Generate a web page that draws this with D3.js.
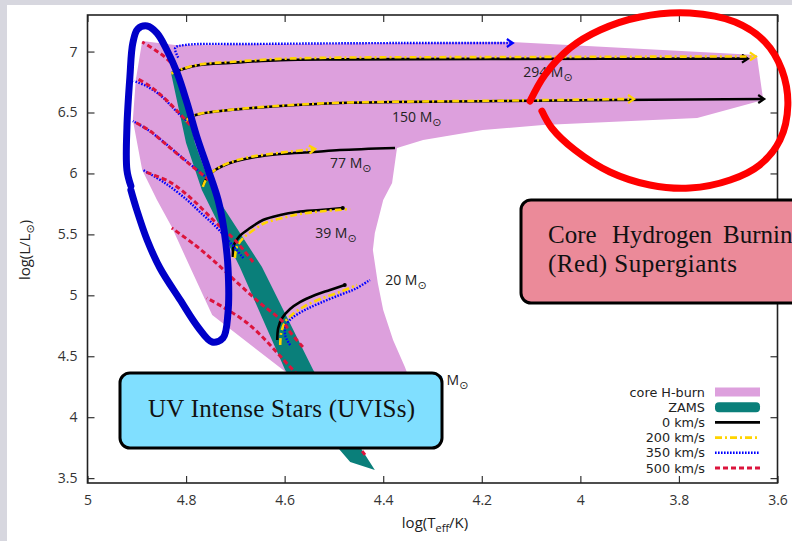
<!DOCTYPE html>
<html><head><meta charset="utf-8">
<script src="https://cdn.jsdelivr.net/npm/d3@7"></script>
<style>body{margin:0;background:#fff}svg{display:block}</style>
</head><body>
<svg id="c" width="792" height="541"></svg>
<script>
// ---------- data (log Teff, log L) ----------
const xTicks = [5, 4.8, 4.6, 4.4, 4.2, 4, 3.8, 3.6];
const yTicks = [3.5, 4, 4.5, 5, 5.5, 6, 6.5, 7];

const coreHBurn = [[4.8225,7.054],[4.569,7.062],[4.139,7.078],[3.642,6.972],[3.629,6.603],[3.763,6.455],[4.076,6.397],[4.198,6.356],[4.319,6.274],[4.372,6.209],[4.382,5.922],[4.400,5.782],[4.417,5.511],[4.421,5.372],[4.411,5.101],[4.400,4.879],[4.380,4.633],[4.356,4.412],[4.346,4.305],[4.33,4.1],[4.52,4.1],[4.603,4.387],[4.747,4.838],[4.792,5.232],[4.829,5.560],[4.859,5.782],[4.889,6.028],[4.908,6.438],[4.902,6.767],[4.889,7.087]];
const zams = [[4.831,6.832],[4.800,6.250],[4.768,5.864],[4.691,5.232],[4.599,4.387],[4.488,3.731],[4.467,3.632],[4.417,3.567],[4.443,3.731],[4.542,4.387],[4.646,5.232],[4.747,5.864],[4.782,6.250],[4.816,6.865]];

// 0 km/s
const v0_294 = [[4.827,6.824],[4.806,6.857],[4.772,6.89],[4.711,6.907],[4.609,6.93],[4.488,6.936],[4.163,6.94],[3.662,6.942]];
const v0_150 = [[4.802,6.430],[4.792,6.463],[4.772,6.488],[4.711,6.520],[4.609,6.553],[4.488,6.578],[4.163,6.594],[3.629,6.611]];
const v0_77  = [[4.766,5.897],[4.758,5.963],[4.741,6.028],[4.711,6.086],[4.670,6.127],[4.609,6.159],[4.542,6.176],[4.488,6.192],[4.376,6.209]];
const v0_39  = [[4.705,5.314],[4.703,5.413],[4.691,5.487],[4.670,5.552],[4.644,5.618],[4.609,5.659],[4.575,5.684],[4.528,5.700],[4.482,5.716]];
const v0_20  = [[4.615,4.633],[4.613,4.732],[4.605,4.814],[4.589,4.888],[4.569,4.945],[4.538,5.003],[4.508,5.044],[4.478,5.085]];
// 200 km/s
const v200_294 = [[4.83,6.82],[4.806,6.86],[4.772,6.895],[4.711,6.915],[4.609,6.94],[4.488,6.95],[4.163,6.955],[3.646,6.96]];
const v200_150 = [[4.802,6.425],[4.792,6.463],[4.772,6.49],[4.711,6.522],[4.609,6.556],[4.488,6.58],[4.163,6.597],[3.893,6.611]];
const v200_77  = [[4.766,5.89],[4.758,5.96],[4.741,6.03],[4.711,6.09],[4.670,6.135],[4.609,6.17],[4.54,6.20]];
const v200_39  = [[4.701,5.306],[4.697,5.396],[4.684,5.470],[4.666,5.528],[4.640,5.593],[4.605,5.634],[4.569,5.667],[4.518,5.692],[4.467,5.708]];
const v200_20  = [[4.609,4.592],[4.607,4.691],[4.599,4.781],[4.583,4.847],[4.559,4.912],[4.528,4.970],[4.488,5.027],[4.453,5.085]];
// 350 km/s
const v350_294 = [[4.816,6.95],[4.822,7.03],[4.80,7.055],[4.67,7.062],[4.366,7.07],[4.139,7.07]];
const v350_150 = [[4.796,6.414],[4.822,6.520],[4.853,6.644],[4.881,6.718],[4.906,6.759]];
const v350_77  = [[4.762,5.979],[4.802,6.110],[4.843,6.250],[4.877,6.356],[4.908,6.430]];
const v350_39  = [[4.684,5.306],[4.711,5.437],[4.741,5.569],[4.772,5.684],[4.798,5.782],[4.843,5.922],[4.887,6.028]];
const v350_20  = [[4.589,4.592],[4.599,4.674],[4.597,4.756],[4.585,4.814],[4.559,4.879],[4.528,4.937],[4.488,5.003],[4.457,5.052],[4.427,5.126]];
// 500 km/s
const v500_294 = [[4.820,6.865],[4.843,6.955],[4.863,7.013],[4.889,7.079]];
const v500_150 = [[4.792,6.397],[4.816,6.504],[4.849,6.636],[4.877,6.726],[4.902,6.783]];
const v500_77  = [[4.753,5.946],[4.796,6.086],[4.839,6.233],[4.873,6.348],[4.904,6.422]];
const v500_39  = [[4.664,5.273],[4.701,5.454],[4.741,5.602],[4.786,5.782],[4.833,5.930],[4.883,6.012]];
const v500_20  = [[4.563,4.576],[4.589,4.699],[4.603,4.781],[4.650,4.937],[4.691,5.085],[4.741,5.273],[4.782,5.413],[4.829,5.552]];
const v500_9   = [[4.437,3.69],[4.508,4.06],[4.583,4.387],[4.676,4.773],[4.758,4.978]];

const massNames = ["294", "150", "77", "39", "20", "9"];
const massLabelT = [4.116, 4.382, 4.508, 4.538, 4.396, 4.295];
const massLabelL = [6.791, 6.422, 6.045, 5.470, 5.085, 4.264];

const legendNames = ["core H-burn", "ZAMS", "0 km/s", "200 km/s", "350 km/s", "500 km/s"];

// hand-drawn annotations (data coords)
const blueLoop = [[4.912,5.864],[4.900,5.700],[4.879,5.454],[4.853,5.224],[4.812,4.962],[4.776,4.740],[4.747,4.617],[4.725,4.650],[4.715,4.855],[4.715,5.232],[4.723,5.536],[4.735,5.782],[4.755,6.028],[4.778,6.299],[4.798,6.578],[4.818,6.824],[4.839,7.013],[4.859,7.152],[4.879,7.210],[4.898,7.185],[4.908,7.070],[4.914,6.791],[4.920,6.381],[4.920,6.028],[4.912,5.897]];
const redLoop = [[4.102,6.594],[4.072,6.808],[4.021,7.029],[3.960,7.177],[3.879,7.284],[3.778,7.316],[3.686,7.242],[3.625,7.078],[3.591,6.849],[3.579,6.561],[3.595,6.274],[3.636,6.070],[3.696,5.946],[3.778,5.880],[3.859,5.905],[3.940,6.012],[4.011,6.192],[4.058,6.373],[4.078,6.512]];

// ---------- drawing ----------
const svg = d3.select("#c");
const x = d3.scaleLinear().domain([5, 3.6]).range([87.5, 777.5]);
const y = d3.scaleLinear().domain([3.46, 7.3]).range([483, 15]);
const FONT = "'Open Sans', 'DejaVu Sans', sans-serif";
const LFONT = "'DejaVu Sans', sans-serif";
const SERIF = "'Liberation Serif', 'DejaVu Serif', serif";

svg.append("rect").attr("width", 792).attr("height", 541).attr("fill", "#fff");
svg.append("rect").attr("width", 792).attr("height", 5).attr("fill", "#d7d7df");
svg.append("rect").attr("width", 7).attr("height", 541).attr("fill", "#d7d7df");

const COL = {k: "#000", yel: "#ffd400", blu: "#0000ff", red: "#dc143c", pink: "#dda0dd", teal: "#0a7f7a"};

const defs = svg.append("defs");
function marker(id, color) {
  defs.append("marker").attr("id", id).attr("viewBox", "-6 -5 10 10")
    .attr("markerWidth", 10).attr("markerHeight", 10).attr("markerUnits", "userSpaceOnUse")
    .attr("orient", "auto").attr("refX", 0).attr("refY", 0)
    .append("path").attr("d", "M-5,-4 L1,0 L-5,4").attr("fill", "none")
    .attr("stroke", color).attr("stroke-width", 2.2);
}
marker("ak", COL.k); marker("ay", COL.yel); marker("ab", COL.blu);

const area = d3.line().x(d => x(d[0])).y(d => y(d[1])).curve(d3.curveLinearClosed);
const smooth = d3.line().x(d => x(d[0])).y(d => y(d[1])).curve(d3.curveCatmullRom.alpha(0.5));

const plot = svg.append("g");
plot.append("path").attr("d", area(coreHBurn)).attr("fill", COL.pink);
plot.append("path").attr("d", area(zams)).attr("fill", COL.teal);

function styleLine(p, style) {
  if (style === "k") p.attr("stroke", COL.k).attr("stroke-width", 2.6);
  if (style === "y") p.attr("stroke", COL.yel).attr("stroke-width", 2.6).attr("stroke-dasharray", "7,3,2,3");
  if (style === "b") p.attr("stroke", COL.blu).attr("stroke-width", 2.4).attr("stroke-dasharray", "1.6,1.4");
  if (style === "r") p.attr("stroke", COL.red).attr("stroke-width", 3).attr("stroke-dasharray", "5,3");
}
function track(data, style, arrow) {
  const p = plot.append("path").attr("d", smooth(data)).attr("fill", "none");
  styleLine(p, style);
  if (arrow) p.attr("marker-end", "url(#" + arrow + ")");
}
[v0_294, v0_150, v0_77, v0_39, v0_20].forEach((d, i) => track(d, "k", i < 2 ? "ak" : null));
[v200_294, v200_150, v200_77, v200_39, v200_20].forEach((d, i) => track(d, "y", i < 3 ? "ay" : null));
[v350_294, v350_150, v350_77, v350_39, v350_20].forEach((d, i) => track(d, "b", i === 0 ? "ab" : null));
[v500_294, v500_150, v500_77, v500_39, v500_20, v500_9].forEach(d => track(d, "r", null));
[v0_39, v0_20].forEach(d => {
  const e = d[d.length - 1];
  plot.append("circle").attr("cx", x(e[0])).attr("cy", y(e[1])).attr("r", 2).attr("fill", "#000");
});

// mass labels
massNames.forEach((m, i) => {
  const t = plot.append("text").attr("x", x(massLabelT[i])).attr("y", y(massLabelL[i]))
    .attr("font-family", FONT).attr("font-size", 14).attr("fill", "#222");
  t.append("tspan").text(m + " M");
  t.append("tspan").attr("dy", 4).attr("font-size", 11).text("\u2299");
});

// axes frame + ticks
const fmt = d3.format("~g");
svg.append("g").attr("transform", "translate(0,483)")
  .call(d3.axisBottom(x).tickValues(xTicks).tickFormat(fmt).tickSizeInner(-7).tickSizeOuter(0).tickPadding(12))
  .call(g => g.select(".domain").remove());
svg.append("g").attr("transform", "translate(0,15)")
  .call(d3.axisTop(x).tickValues(xTicks).tickFormat("").tickSizeInner(-7).tickSizeOuter(0))
  .call(g => g.select(".domain").remove());
svg.append("g").attr("transform", "translate(87.5,0)")
  .call(d3.axisLeft(y).tickValues(yTicks).tickFormat(fmt).tickSizeInner(-7).tickSizeOuter(0).tickPadding(10))
  .call(g => g.select(".domain").remove());
svg.append("g").attr("transform", "translate(777.5,0)")
  .call(d3.axisRight(y).tickValues(yTicks).tickFormat("").tickSizeInner(-7).tickSizeOuter(0))
  .call(g => g.select(".domain").remove());
svg.selectAll(".tick text").attr("font-family", FONT).attr("font-size", 14).attr("fill", "#333");
svg.selectAll(".tick line").attr("stroke", "#333").attr("stroke-width", 1.2);
svg.append("rect").attr("x", 87.5).attr("y", 15).attr("width", 690).attr("height", 468)
  .attr("fill", "none").attr("stroke", "#222").attr("stroke-width", 1.6);

// axis titles
const xt = svg.append("text").attr("x", 435).attr("y", 528).attr("text-anchor", "middle")
  .attr("font-family", FONT).attr("font-size", 15).attr("fill", "#222");
xt.append("tspan").text("log(T");
xt.append("tspan").attr("dy", 4).attr("font-size", 11).text("eff");
xt.append("tspan").attr("dy", -4).text("/K)");
const yt = svg.append("text").attr("transform", "translate(30,250) rotate(-90)").attr("text-anchor", "middle")
  .attr("font-family", FONT).attr("font-size", 15).attr("fill", "#222");
yt.append("tspan").text("log(L/L");
yt.append("tspan").attr("dy", 4).attr("font-size", 11).text("\u2299");
yt.append("tspan").attr("dy", -4).text(")");

// legend
const lg = svg.append("g");
legendNames.forEach((n, i) => {
  const cy = 392 + i * 15.2;
  lg.append("text").attr("x", 705).attr("y", cy + 4.5).attr("text-anchor", "end")
    .attr("font-family", LFONT).attr("font-size", 12.8).attr("fill", "#222").text(n);
  if (i === 0) lg.append("rect").attr("x", 715).attr("y", cy - 4.5).attr("width", 45).attr("height", 9).attr("fill", COL.pink);
  if (i === 1) lg.append("rect").attr("x", 715).attr("y", cy - 5).attr("width", 45).attr("height", 10).attr("rx", 4).attr("fill", COL.teal);
  const st = [null, null, "k", "y", "b", "r"][i];
  if (st) styleLine(lg.append("line").attr("x1", 715).attr("x2", 760).attr("y1", cy).attr("y2", cy), st);
});

// hand-drawn annotations
svg.append("path").attr("d", smooth(blueLoop)).attr("fill", "none").attr("stroke", "#0000c8")
  .attr("stroke-width", 7).attr("stroke-linecap", "round").attr("stroke-linejoin", "round");
svg.append("path").attr("d", smooth(redLoop)).attr("fill", "none").attr("stroke", "#ff0000")
  .attr("stroke-width", 7).attr("stroke-linecap", "round").attr("stroke-linejoin", "round");

// text boxes
svg.append("rect").attr("x", 120).attr("y", 373).attr("width", 322).attr("height", 75).attr("rx", 10)
  .attr("fill", "#80dfff").attr("stroke", "#000").attr("stroke-width", 3);
svg.append("text").attr("x", 148).attr("y", 417).attr("font-family", SERIF).attr("font-size", 25)
  .attr("fill", "#111").attr("textLength", 267).attr("lengthAdjust", "spacing").text("UV Intense Stars (UVISs)");

svg.append("rect").attr("x", 521).attr("y", 200).attr("width", 300).attr("height", 103).attr("rx", 10)
  .attr("fill", "#eb8a99").attr("stroke", "#000").attr("stroke-width", 3);
const ch = svg.append("text").attr("y", 243).attr("font-family", SERIF).attr("font-size", 25).attr("fill", "#111");
ch.append("tspan").attr("x", 548).text("Core");
ch.append("tspan").attr("x", 612).text("Hydrogen");
ch.append("tspan").attr("x", 723).text("Burning");
svg.append("text").attr("x", 548).attr("y", 272).attr("font-family", SERIF).attr("font-size", 25)
  .attr("fill", "#111").attr("textLength", 189).attr("lengthAdjust", "spacing").text("(Red) Supergiants");
</script>
</body></html>
